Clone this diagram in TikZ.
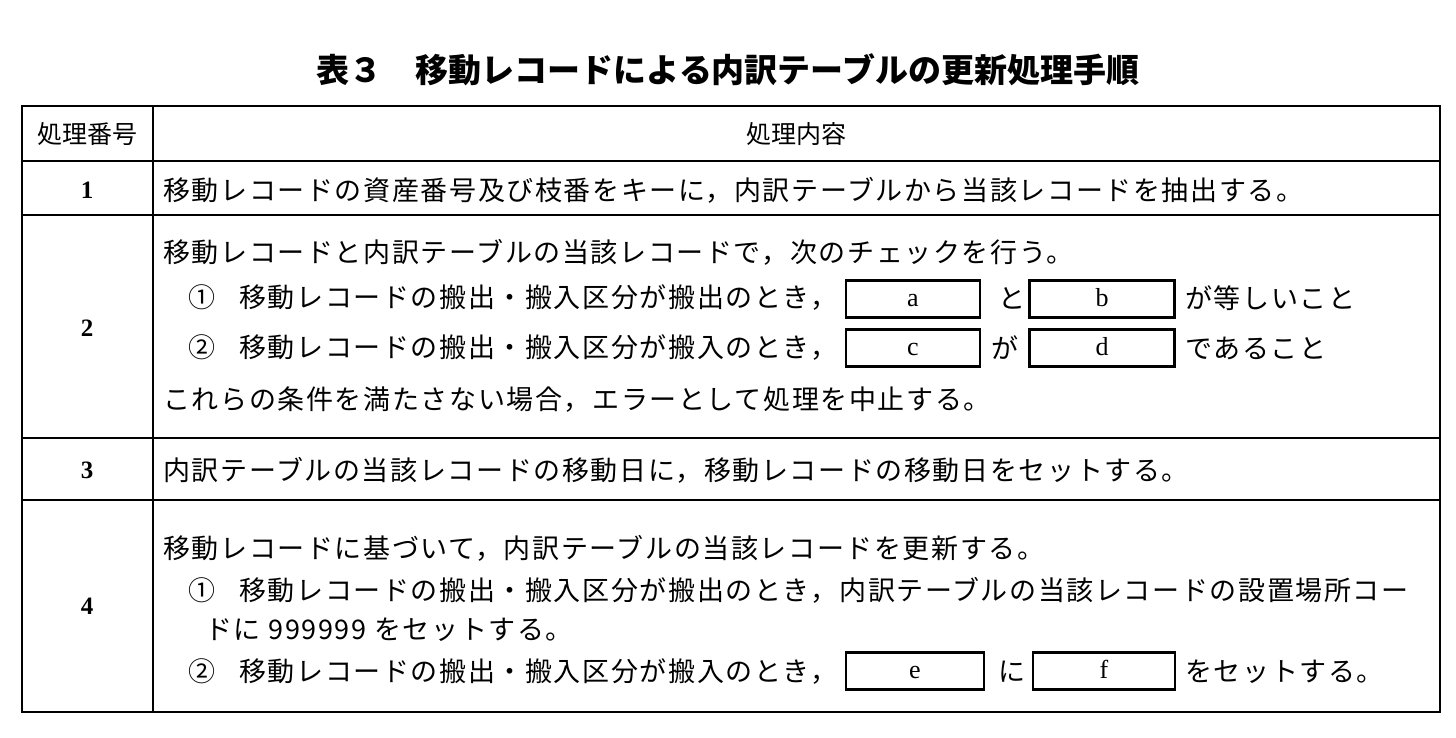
\documentclass[tikz,border=0pt]{standalone}
\usepackage{fontspec}
\setmainfont{Liberation Serif}
\newfontfamily\cjk[LetterSpace=6]{Noto Sans CJK JP}
\newfontfamily\cjkt{Noto Sans CJK JP}
\tikzset{
 t/.style={anchor=west,inner sep=0pt,font=\cjk\fontsize{27}{30}\selectfont},
 num/.style={inner sep=0pt,font=\bfseries\fontsize{25}{28}\selectfont},
 blank/.style={draw,line width=2.2pt,minimum height=37pt,inner sep=0pt,text height=14pt,text depth=0pt,font=\fontsize{26}{28}\selectfont}
}
\begin{document}
\begin{tikzpicture}[x=1pt,y=-1pt]
\useasboundingbox (0,0) rectangle (1456,738);
\node[inner sep=0pt,font=\cjkt\bfseries\fontsize{33}{36}\selectfont] (title) at (728,70) {表３　移動レコードによる内訳テーブルの更新処理手順};
% table
\draw[line width=2.4pt] (22,106) rectangle (1440,712);
\draw[line width=1.4pt] (153,106) -- (153,712);
\foreach \y in {161,215,438,500} \draw[line width=1.4pt] (22,\y) -- (1440,\y);
\node[inner sep=0pt,font=\cjkt\fontsize{25}{28}\selectfont] (h1) at (87,134) {処理番号};
\node[inner sep=0pt,font=\cjkt\fontsize{25}{28}\selectfont] (h2) at (796,134) {処理内容};
\node[num] (n1) at (87,190) {1};
\node[num] (n2) at (87,328) {2};
\node[num] (n3) at (87,470) {3};
\node[num] (n4) at (87,606) {4};
\node[t] (r1) at (163,190) {移動レコードの資産番号及び枝番をキーに，内訳テーブルから当該レコードを抽出する。};
\node[t] (r2a) at (163,252) {移動レコードと内訳テーブルの当該レコードで，次のチェックを行う。};
\node[t] (r2b) at (188,298) {①\hspace{24pt}移動レコードの搬出・搬入区分が搬出のとき，};
\node[t] (r2c) at (188,348) {②\hspace{24pt}移動レコードの搬出・搬入区分が搬入のとき，};
\node[t] (r2d) at (163,400) {これらの条件を満たさない場合，エラーとして処理を中止する。};
\node[blank,minimum width=134pt] (a) at (913,299) {a};
\node[blank,minimum width=145pt] (b) at (1102,299) {b};
\node[blank,minimum width=134pt] (c) at (913,348) {c};
\node[blank,minimum width=145pt] (d) at (1102,348) {d};
\node[t] (to) at (998,298) {と};
\node[t] (ga) at (991,348) {が};
\node[t] (eq) at (1185,298) {が等しいこと};
\node[t] (de) at (1185,348) {であること};
\node[t] (r3) at (163,470) {内訳テーブルの当該レコードの移動日に，移動レコードの移動日をセットする。};
\node[t] (r4a) at (163,548) {移動レコードに基づいて，内訳テーブルの当該レコードを更新する。};
\node[t] (r4b) at (188,590) {①\hspace{24pt}移動レコードの搬出・搬入区分が搬出のとき，内訳テーブルの当該レコードの設置場所コー};
\node[t] (r4c) at (205,630) {ドに 999999 をセットする。};
\node[t] (r4d) at (188,672) {②\hspace{24pt}移動レコードの搬出・搬入区分が搬入のとき，};
\node[blank,minimum width=138pt] (e) at (915,671) {e};
\node[blank,minimum width=142pt] (f) at (1104,671) {f};
\node[t] (ni) at (998,672) {に};
\node[t] (set) at (1185,672) {をセットする。};
\end{tikzpicture}
\end{document}
